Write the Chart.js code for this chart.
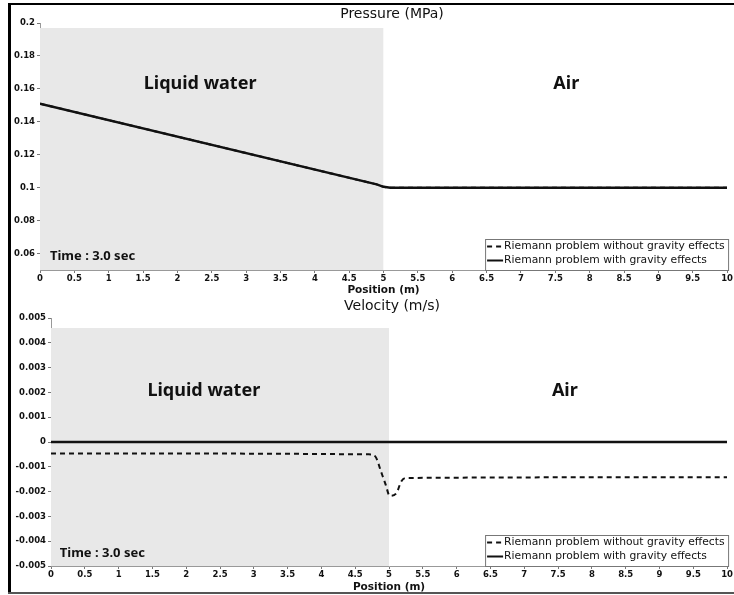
<!DOCTYPE html>
<html>
<head>
<meta charset="utf-8">
<script src="https://cdn.jsdelivr.net/npm/chart.js"></script>
<style>
  body { margin: 0; background: #fff; }
  #wrap { position: relative; width: 734px; height: 595px; overflow: hidden; }
  canvas { position: absolute; left: 0; }
  #pressureChart { top: 0; }
  #velocityChart { top: 297px; }
  .frame { position: absolute; background: #000; }
</style>
</head>
<body>
<div id="wrap">
  <canvas id="pressureChart" width="734" height="298"></canvas>
  <canvas id="velocityChart" width="734" height="298"></canvas>
  <div class="frame" style="left:8px;top:3px;width:726px;height:2px"></div>
  <div class="frame" style="left:8px;top:3px;width:3px;height:591px"></div>
  <div class="frame" style="left:8px;top:592px;width:726px;height:2px;background:#555"></div>
</div>
<script>
// axis ticks
const positionTicks = [0, 0.5, 1, 1.5, 2, 2.5, 3, 3.5, 4, 4.5, 5, 5.5, 6, 6.5, 7, 7.5, 8, 8.5, 9, 9.5, 10];
const pressureTicks = [0.06, 0.08, 0.1, 0.12, 0.14, 0.16, 0.18, 0.2];
const velocityTicks = [-0.005, -0.004, -0.003, -0.002, -0.001, 0, 0.001, 0.002, 0.003, 0.004, 0.005];

// pressure (MPa) along position (m)
const pressureX = [0, 4.9, 5, 5.1, 10];
const pressureWithGravity = [0.151, 0.102, 0.1005, 0.1, 0.1];
const pressureWithoutGravity = [0.151, 0.102, 0.1005, 0.1, 0.1];

// velocity (m/s) along position (m)
const velocityX = [0, 4.74, 4.81, 4.88, 4.95, 5.01, 5.11, 5.18, 5.25, 10];
const velocityWithoutGravity = [-0.00046, -0.0005, -0.00064, -0.00118, -0.00172, -0.00217, -0.00206, -0.00159, -0.00145, -0.00142];
const velocityGravityX = [0, 10];
const velocityWithGravity = [0, 0];

// liquid water zone (shaded)
const waterZone = [0, 5];
const pressureZoneTop = 0.197;
const velocityZoneTop = 0.0046;

const seriesLabels = ['Riemann problem without gravity effects', 'Riemann problem with gravity effects'];

const toPoints = (xs, ys) => xs.map((x, i) => ({ x, y: ys[i] }));

Chart.defaults.font.family = '"DejaVu Sans"';
Chart.defaults.color = '#111';

// title, zone labels, time stamp and boxed legend
const decorations = {
    id: 'decorations',
    afterDatasetsDraw(chart, args, opts) {
        const { ctx, chartArea: a, scales: { x, y } } = chart;
        ctx.save();
        ctx.fillStyle = '#111';
        ctx.textBaseline = 'middle';

        ctx.textAlign = 'center';
        ctx.font = '14px "DejaVu Sans"';
        ctx.fillText(opts.title, opts.titleX, opts.titleY);

        ctx.font = 'bold 18px "Noto Sans"';
        ctx.fillText('Liquid water', x.getPixelForValue(opts.waterAt[0]), y.getPixelForValue(opts.waterAt[1]));
        ctx.fillText('Air', x.getPixelForValue(opts.airAt[0]), y.getPixelForValue(opts.airAt[1]));

        ctx.textAlign = 'left';
        ctx.font = 'bold 13px "Noto Sans"';
        ctx.fillText('Time : 3.0 sec', x.getPixelForValue(opts.timeAt[0]), y.getPixelForValue(opts.timeAt[1]));

        // legend box in the lower right corner
        const bw = 243, bh = 31;
        const bx = a.right + 1 - bw, by = a.bottom - bh;
        ctx.fillStyle = '#fff';
        ctx.fillRect(bx, by, bw, bh);
        ctx.strokeStyle = '#777';
        ctx.lineWidth = 1;
        ctx.strokeRect(bx + 0.5, by + 0.5, bw, bh);
        ctx.font = '10.75px "DejaVu Sans"';
        ctx.fillStyle = '#111';
        ctx.strokeStyle = '#111';
        chart.data.datasets.filter(ds => ds.inLegend).forEach((ds, i) => {
            const ly = by + 7.5 + i * 14;
            ctx.setLineDash(ds.borderDash || []);
            ctx.lineWidth = 2;
            ctx.beginPath();
            ctx.moveTo(bx + 2, ly);
            ctx.lineTo(bx + 18, ly);
            ctx.stroke();
            ctx.setLineDash([]);
            ctx.fillText(ds.label, bx + 19, ly);
        });
        ctx.restore();
    }
};

function axisStyle() {
    return {
        grid: { drawOnChartArea: false, tickLength: 3, color: '#777' },
        border: { color: '#999' }
    };
}

function renderProfile(canvasId, cfg) {
    const ctx = document.getElementById(canvasId).getContext('2d');
    return new Chart(ctx, {
        type: 'line',
        data: {
            datasets: [
                {
                    label: 'zone',
                    data: toPoints(waterZone, [cfg.zoneTop, cfg.zoneTop]),
                    fill: 'start',
                    backgroundColor: '#e8e8e8',
                    borderWidth: 0,
                    pointRadius: 0,
                    order: 3
                },
                {
                    label: seriesLabels[0],
                    inLegend: true,
                    data: cfg.dashed,
                    borderColor: '#111',
                    borderWidth: 2,
                    borderDash: [5, 4],
                    pointRadius: 0,
                    cubicInterpolationMode: cfg.smooth ? 'monotone' : 'default',
                    order: 2
                },
                {
                    label: seriesLabels[1],
                    inLegend: true,
                    data: cfg.solid,
                    borderColor: '#111',
                    borderWidth: 2.5,
                    pointRadius: 0,
                    order: 1
                }
            ]
        },
        options: {
            responsive: false,
            animation: false,
            events: [],
            layout: { padding: { top: cfg.padTop, right: 6, bottom: 0, left: 0 } },
            plugins: {
                legend: { display: false },
                tooltip: { enabled: false },
                decorations: cfg.deco
            },
            scales: {
                x: {
                    type: 'linear',
                    min: 0,
                    max: 10,
                    ...axisStyle(),
                    afterBuildTicks: s => { s.ticks = positionTicks.map(v => ({ value: v })); },
                    afterFit: s => { s.height = cfg.xHeight; },
                    ticks: { autoSkip: false, maxRotation: 0, padding: 1, font: { size: 8.5, weight: 'bold' }, callback: v => String(v) },
                    title: { display: true, text: 'Position (m)', font: { size: 10.5, weight: 'bold' }, padding: { top: 0, bottom: 1 } }
                },
                y: {
                    type: 'linear',
                    min: cfg.yMin,
                    max: cfg.yMax,
                    ...axisStyle(),
                    afterBuildTicks: s => { s.ticks = cfg.yTicks.map(v => ({ value: v })); },
                    afterFit: s => { s.width = cfg.yWidth; },
                    ticks: { autoSkip: false, padding: 2, font: { size: 8.5, weight: 'bold' }, callback: v => String(v) }
                }
            }
        },
        plugins: [decorations]
    });
}

renderProfile('pressureChart', {
    solid: toPoints(pressureX, pressureWithGravity),
    dashed: toPoints(pressureX, pressureWithoutGravity),
    smooth: false,
    zoneTop: pressureZoneTop,
    yMin: 0.05, yMax: 0.2, yTicks: pressureTicks,
    padTop: 23, xHeight: 28, yWidth: 40,
    deco: { title: 'Pressure (MPa)', titleX: 392, titleY: 14, waterAt: [2.33, 0.163], airAt: [7.66, 0.163], timeAt: [0.145, 0.0586] }
});

renderProfile('velocityChart', {
    solid: toPoints(velocityGravityX, velocityWithGravity),
    dashed: toPoints(velocityX, velocityWithoutGravity),
    smooth: true,
    zoneTop: velocityZoneTop,
    yMin: -0.005, yMax: 0.005, yTicks: velocityTicks,
    padTop: 21, xHeight: 29, yWidth: 51,
    deco: { title: 'Velocity (m/s)', titleX: 392, titleY: 9, waterAt: [2.26, 0.00207], airAt: [7.6, 0.00207], timeAt: [0.13, -0.00447] }
});
</script>
</body>
</html>
